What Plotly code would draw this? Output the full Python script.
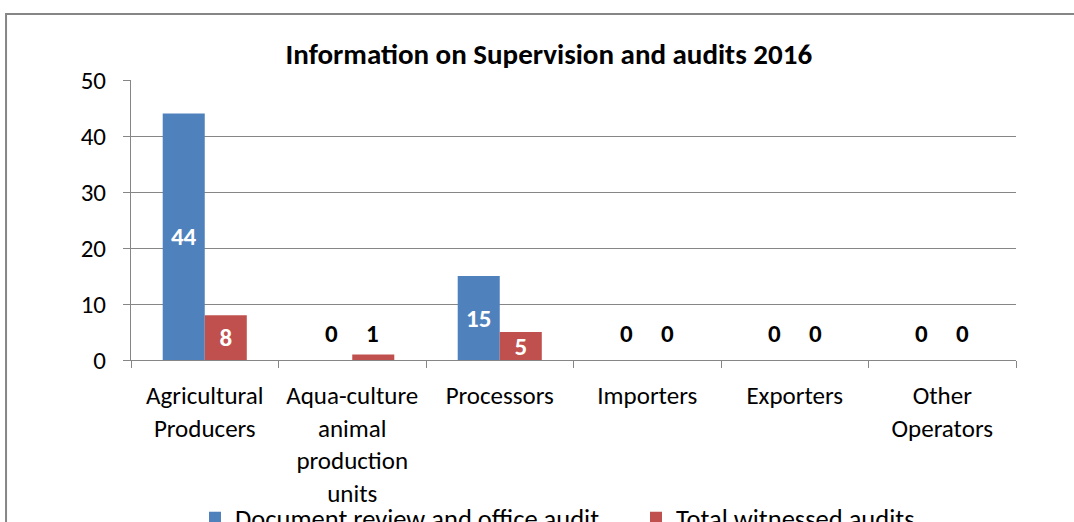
import plotly.graph_objects as go

categories = ["Agricultural<br>Producers", "Aqua-culture<br>animal<br>production<br>units",
              "Processors", "Importers", "Exporters", "Other<br>Operators"]
doc_review = [44, 0, 15, 0, 0, 0]
witnessed = [8, 1, 5, 0, 0, 0]
series_names = ["Document review and office audit", "Total witnessed audits"]
colors = ["#4F81BD", "#C0504D"]

FONT = "Carlito, Lato, Open Sans, sans-serif"
INSIDE_MIN = 3
FS = 25

fig = go.Figure()
for vals, name, col, lg in zip([doc_review, witnessed], series_names, colors, ["legend", "legend2"]):
    fig.add_trace(go.Bar(
        x=categories, y=vals, name=name, marker_color=col,
        marker_line_width=0, legend=lg,
        text=[str(v) if v > INSIDE_MIN else "" for v in vals],
        textposition="inside", insidetextanchor="middle", textangle=0,
        textfont=dict(family=FONT, size=FS, color="white", weight="bold"),
        constraintext="none",
        hoverinfo="skip",
    ))

# small values: labels above the baseline
for vals, shift in zip([doc_review, witnessed], [-20.5, 20.5]):
    for c, v in zip(categories, vals):
        if v <= INSIDE_MIN:
            fig.add_annotation(x=c, y=0, text=f"<b>{v}</b>", showarrow=False,
                               xshift=shift, yshift=27, yanchor="middle",
                               font=dict(family=FONT, size=FS, color="black"))

fig.add_shape(type="rect", xref="paper", yref="paper",
              x0=-0.1412, x1=1.2, y0=-1.0, y1=1.2357,
              line=dict(color="#868686", width=2), fillcolor="rgba(0,0,0,0)", layer="below")

legend_common = dict(orientation="h", y=-0.4786, yanchor="top", xanchor="left",
                     bgcolor="rgba(0,0,0,0)", font=dict(family=FONT, size=26.5))

fig.update_layout(
    width=1074, height=522,
    margin=dict(l=131, r=58, t=80, b=162, autoexpand=False),
    paper_bgcolor="white", plot_bgcolor="white",
    font=dict(family=FONT, size=FS, color="black"),
    title=dict(text="<b>Information on Supervision and audits 2016</b>",
               x=0.511, xanchor="center", y=1 - 54 / 522, yanchor="middle",
               font=dict(family=FONT, size=29, color="black")),
    barmode="group", bargap=0.43, bargroupgap=0,
    showlegend=True,
    legend=dict(x=0.0723, **legend_common),
    legend2=dict(x=0.5706, **legend_common),
)
fig.update_yaxes(range=[0, 50], dtick=10, showgrid=True, gridcolor="#868686", gridwidth=1,
                 showline=True, linecolor="#868686", linewidth=1,
                 ticks="outside", ticklen=7, tickcolor="#868686", ticklabelstandoff=12,
                 zeroline=False, tickfont=dict(size=FS))
fig.update_xaxes(showline=True, linecolor="#868686", linewidth=1,
                 ticks="outside", ticklen=7, tickcolor="#868686", tickson="boundaries",
                 ticklabelstandoff=13,
                 tickfont=dict(size=FS), tickangle=0)

fig.write_html("out.html", config={"displayModeBar": False},
               post_script="document.body.style.margin='0';")
